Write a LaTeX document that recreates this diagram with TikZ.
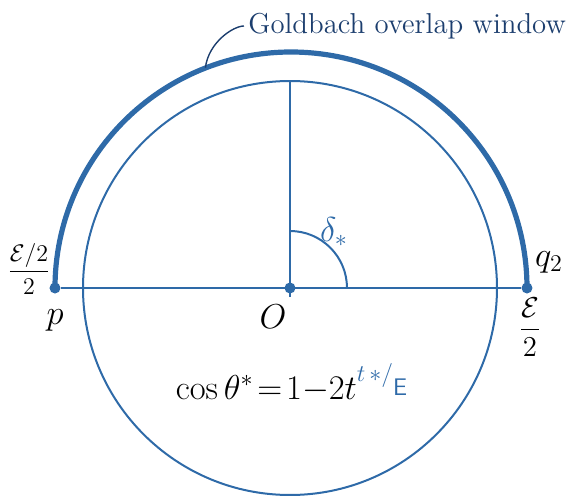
\documentclass[tikz,border=0pt]{standalone}
\usepackage{amsmath}
\usepackage{xcolor}
\usetikzlibrary{calc}
\definecolor{arcblue}{RGB}{46,106,168}
\definecolor{navy}{RGB}{28,62,110}

\begin{document}
\begin{tikzpicture}[
  x=0.5pt, y=0.5pt,
  thinline/.style={draw=arcblue, line width=1pt},
  thickline/.style={draw=arcblue, line width=2.6pt},
  dot/.style={circle, fill=arcblue, inner sep=0pt, minimum size=5.5pt},
  lbl/.style={font=\LARGE, inner sep=1pt},
]
\useasboundingbox (0,0) rectangle (570,495);

% centre and end points
\node[dot] (O) at (290,207) {};
\node[dot] (p) at (55,207) {};
\node[dot] (q) at (527,207) {};
\coordinate (top) at (290,414);
\coordinate (Ob) at (290,198);

% circle and window
\draw[thinline] (O) circle[radius=207];
\draw[thickline] (p.center) arc[start angle=180, end angle=0, radius=236];

% axes
\draw[thinline] (p) -- (q);
\draw[thinline] (Ob) -- (top);
\draw[thinline] ($(O)+(57,0)$) arc[start angle=0, end angle=90, radius=57];

% labels
\node[lbl] (plbl) at (55,175) {$p$};
\node[lbl] (Olbl) at (273,178) {$O$};
\node[lbl] (qlbl) at (549,233) {$q_2$};
\node[font=\large] (pfrac) at (29,226) {$\dfrac{\mathcal{E}/2}{2}$};
\node[font=\Large] (qfrac) at (530,168) {$\dfrac{\mathcal{E}}{2}$};
\node[lbl, text=arcblue] (delta) at (334,263) {$\delta_{\ast}$};
\node[lbl] (eqn) at (292,112) {$\cos\theta^* \!=\! 1{-}2t^{\textcolor{arcblue}{t\,*/\raisebox{-0.9ex}{$\scriptstyle\mathsf{E}$}}}$};

% Goldbach window note
\coordinate (wpt) at ($(O)+(111:236)$);
\node[font=\Large, text=navy, anchor=west, inner sep=0pt] (note) at (248,469) {Goldbach overlap window};
\draw[navy, line width=0.7pt] (wpt) .. controls ($(wpt)+(3,25)$) and ($(note.west)+(-15,0)$) .. ($(note.west)+(-4,0)$);

\end{tikzpicture}
\end{document}
